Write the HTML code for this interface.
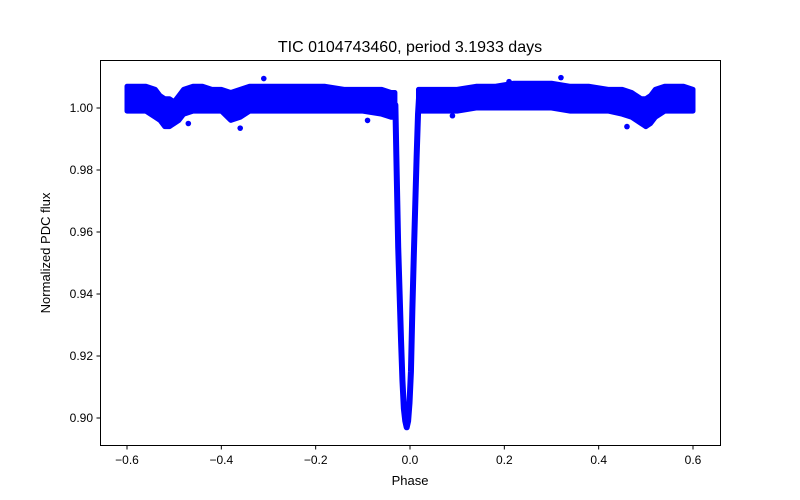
<!DOCTYPE html>
<html><head><meta charset="utf-8"><style>
body{margin:0;background:#fff}
svg{display:block;font-family:"Liberation Sans","DejaVu Sans",sans-serif}
</style></head><body>
<svg id="chart" width="800" height="500" xmlns="http://www.w3.org/2000/svg">
<rect width="800" height="500" fill="#fff"/>
<text x="410" y="52" font-size="16" text-anchor="middle">TIC 0104743460, period 3.1933 days</text>
<g id="marks"></g>
<rect x="100.5" y="60.5" width="620" height="385" fill="none" stroke="#000" stroke-width="1"/>
<g id="axes"></g>
<text x="410" y="485" font-size="13" text-anchor="middle">Phase</text>
<text transform="translate(50,253) rotate(-90)" font-size="13" text-anchor="middle">Normalized PDC flux</text>
</svg>
<script>
const xTicks=[-0.6,-0.4,-0.2,0.0,0.2,0.4,0.6];
const xTickLabels=["\u22120.6","\u22120.4","\u22120.2","0.0","0.2","0.4","0.6"];
const yTicks=[0.90,0.92,0.94,0.96,0.98,1.00];
const yTickLabels=["0.90","0.92","0.94","0.96","0.98","1.00"];
// baseline band: phase, lower, upper flux
const leftPhase=[-0.60,-0.58,-0.56,-0.54,-0.53,-0.52,-0.51,-0.50,-0.49,-0.48,-0.46,-0.44,-0.42,-0.40,-0.38,-0.36,-0.34,-0.30,-0.26,-0.22,-0.18,-0.14,-0.10,-0.06,-0.04,-0.032];
const leftLo=[0.999,0.999,0.999,0.997,0.996,0.994,0.994,0.995,0.996,0.998,0.999,0.999,0.999,0.999,0.996,0.997,0.999,0.999,0.999,0.999,0.999,0.999,0.999,0.998,0.997,0.997];
const leftHi=[1.007,1.007,1.007,1.006,1.004,1.003,1.003,1.002,1.004,1.006,1.007,1.007,1.006,1.006,1.005,1.006,1.007,1.007,1.007,1.007,1.007,1.006,1.006,1.006,1.005,1.005];
const rightPhase=[0.018,0.03,0.06,0.10,0.14,0.18,0.22,0.26,0.30,0.34,0.38,0.42,0.45,0.47,0.48,0.49,0.50,0.51,0.52,0.54,0.56,0.58,0.60];
const rightLo=[0.999,0.999,0.999,0.999,1.000,1.000,1.000,1.000,1.000,0.999,0.999,0.999,0.998,0.997,0.996,0.995,0.994,0.995,0.997,0.999,0.999,0.999,0.999];
const rightHi=[1.006,1.006,1.006,1.006,1.007,1.007,1.008,1.008,1.008,1.007,1.007,1.006,1.006,1.005,1.004,1.003,1.003,1.004,1.006,1.007,1.007,1.007,1.006];
// primary eclipse trace
const eclPhase=[-0.031,-0.029,-0.027,-0.025,-0.022,-0.019,-0.016,-0.013,-0.010,-0.007,-0.004,-0.001,0.002,0.005,0.008,0.011,0.014,0.017,0.019];
const eclFlux=[1.001,0.985,0.97,0.955,0.94,0.925,0.912,0.903,0.899,0.897,0.899,0.905,0.915,0.935,0.952,0.968,0.984,0.998,1.003];
// outliers
const outPhase=[-0.31,-0.36,0.32,0.21,-0.47,0.46,-0.09,0.09];
const outFlux=[1.0095,0.9935,1.0098,1.0085,0.995,0.994,0.996,0.9975];

const X=v=>410+v*(566/1.2);
const Y=v=>108+(1.0-v)*3100;
const NS="http://www.w3.org/2000/svg";
const marks=document.getElementById('marks'), axes=document.getElementById('axes');
function mk(tag,attrs,parent){const e=document.createElementNS(NS,tag);for(const k in attrs)e.setAttribute(k,attrs[k]);parent.appendChild(e);return e;}
function band(ph,lo,hi,name){
  let pts=ph.map((p,i)=>X(p)+','+Y(hi[i]));
  for(let i=ph.length-1;i>=0;i--)pts.push(X(ph[i])+','+Y(lo[i]));
  const e=mk('polygon',{points:pts.join(' '),fill:'#0000ff',stroke:'#0000ff','stroke-width':5,'stroke-linejoin':'round'},marks);
  
  
}
band(leftPhase,leftLo,leftHi,'baseline-left');
band(rightPhase,rightLo,rightHi,'baseline-right');
const ecl=mk('polyline',{points:eclPhase.map((p,i)=>X(p)+','+Y(eclFlux[i])).join(' '),fill:'none',stroke:'#0000ff','stroke-width':6,'stroke-linejoin':'round','stroke-linecap':'round'},marks);


outPhase.forEach((p,i)=>{
  const c=mk('circle',{cx:X(p),cy:Y(outFlux[i]),r:2.8,fill:'#0000ff'},marks);
  
  
});
xTicks.forEach((t,i)=>{
  const x=X(t);
  const l=mk('line',{x1:x,x2:x,y1:446,y2:449.5,stroke:'#000'},axes);
  
  
  const tx=mk('text',{x:x,y:464,'font-size':12,'text-anchor':'middle'},axes);
  tx.textContent=xTickLabels[i];
  
  
});
yTicks.forEach((t,i)=>{
  const y=Y(t);
  const l=mk('line',{x1:96.5,x2:100,y1:y,y2:y,stroke:'#000'},axes);
  
  
  const tx=mk('text',{x:93,y:y+4,'font-size':12,'text-anchor':'end'},axes);
  tx.textContent=yTickLabels[i];
  
  
});
</script>
</body></html>
